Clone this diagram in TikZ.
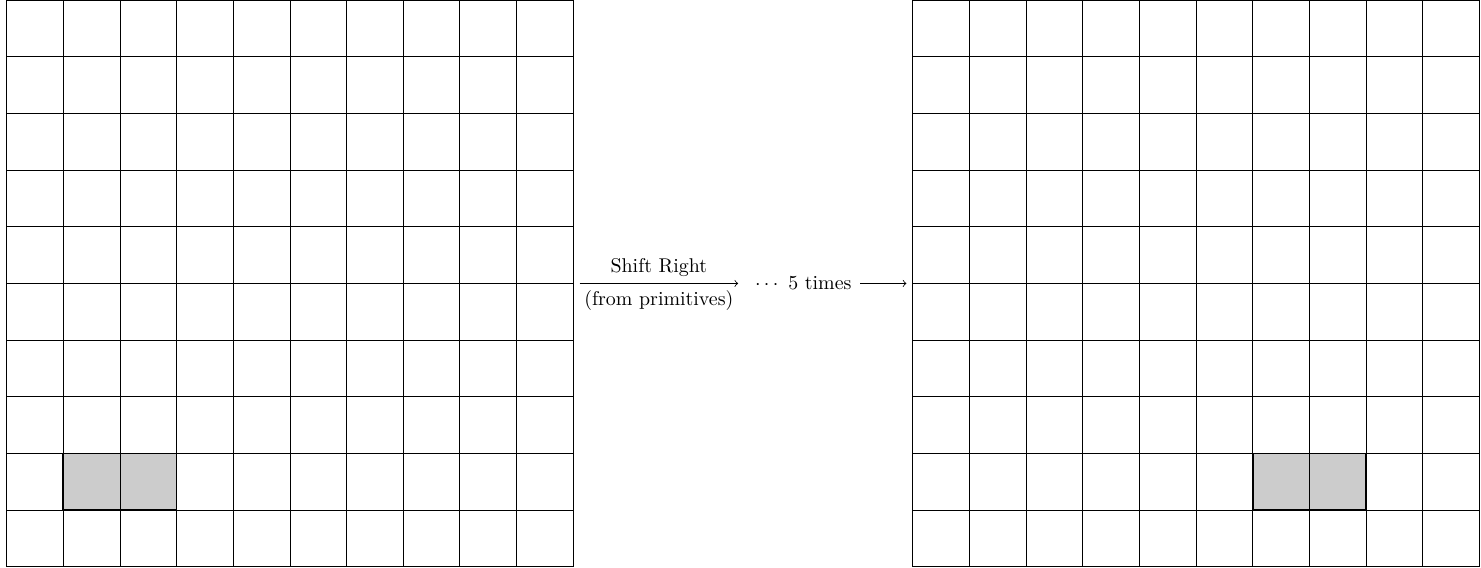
\documentclass[tikz,border=0pt]{standalone}
\usepackage{amsmath}
\usetikzlibrary{matrix,positioning}

\begin{document}
\begin{tikzpicture}[gmat/.style={matrix of nodes,nodes in empty cells,
    inner sep=0pt,outer sep=0pt,
    nodes={draw,minimum size=1cm,inner sep=0pt,anchor=center},
    column sep=-\pgflinewidth,row sep=-\pgflinewidth},
  hit/.style={nodes={fill=gray!40}}]
 \useasboundingbox (0,0) rectangle (26.14,10.02);
 \matrix[gmat,row 9 column 2/.style=hit,row 9 column 3/.style=hit,anchor=south west] (L) at (0.11,0.01)
  {&&&&&&&&&\\ &&&&&&&&&\\ &&&&&&&&&\\ &&&&&&&&&\\ &&&&&&&&&\\
   &&&&&&&&&\\ &&&&&&&&&\\ &&&&&&&&&\\ &&&&&&&&&\\ &&&&&&&&&\\};
 \matrix[gmat,row 9 column 7/.style=hit,row 9 column 8/.style=hit,right=5.98cm of L] (R)
  {&&&&&&&&&\\ &&&&&&&&&\\ &&&&&&&&&\\ &&&&&&&&&\\ &&&&&&&&&\\
   &&&&&&&&&\\ &&&&&&&&&\\ &&&&&&&&&\\ &&&&&&&&&\\ &&&&&&&&&\\};
 \draw[thick] (L-9-2.north west) rectangle (L-9-3.south east);
 \draw[thick] (R-9-7.north west) rectangle (R-9-8.south east);
 \node[right=3.08cm of L] (times) {$\cdots$ 5 times};
 \draw[-to] ([xshift=3pt]L.east) -- ([xshift=-5pt]times.west)
   node[midway,above] {Shift Right} node[midway,below] {(from primitives)};
 \draw[-to] ([xshift=1pt]times.east) -- ([xshift=-3pt]R.west);
\end{tikzpicture}
\end{document}
